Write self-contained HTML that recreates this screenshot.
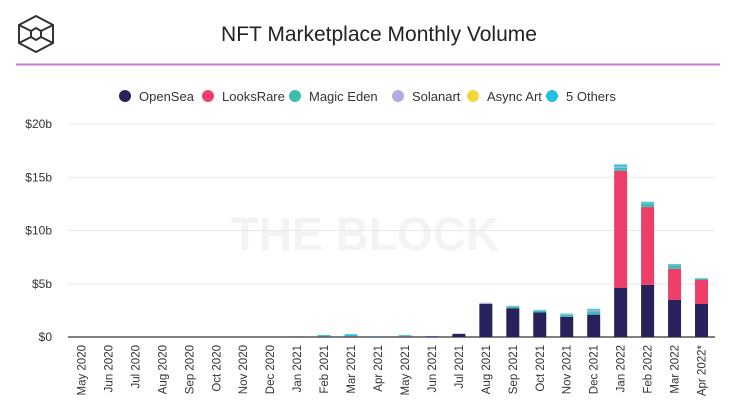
<!DOCTYPE html>
<html><head><meta charset="utf-8"><style>
body{margin:0;background:#fff;width:737px;height:413px;overflow:hidden;font-family:"Liberation Sans",sans-serif}
</style></head><body>
<svg width="737" height="413" xmlns="http://www.w3.org/2000/svg">
<g fill="none" stroke="#333" stroke-width="2">
<polygon points="36,16 53,25 53,43 36,52 19,43 19,25"/>
<polygon points="36,28 41,31 41,37 36,40 31,37 31,31"/>
<line x1="19" y1="25" x2="31" y2="31"/><line x1="53" y1="25" x2="41" y2="31"/>
<line x1="19" y1="43" x2="31" y2="37"/><line x1="53" y1="43" x2="41" y2="37"/>
</g>
<text x="379" y="41" text-anchor="middle" font-size="21" fill="#222">NFT Marketplace Monthly Volume</text>
<line x1="16" y1="64.5" x2="720" y2="64.5" stroke="#c77ddb" stroke-width="2"/>
<text x="365" y="250" text-anchor="middle" font-size="46" font-weight="bold" fill="#f3f3f3">THE BLOCK</text>
<g id="legend"></g>
<g id="grid"></g>
<g id="bars"></g>
<g id="xlabels"></g>
</svg>
<script>
const categories=["May 2020","Jun 2020","Jul 2020","Aug 2020","Sep 2020","Oct 2020","Nov 2020","Dec 2020","Jan 2021","Feb 2021","Mar 2021","Apr 2021","May 2021","Jun 2021","Jul 2021","Aug 2021","Sep 2021","Oct 2021","Nov 2021","Dec 2021","Jan 2022","Feb 2022","Mar 2022","Apr 2022*"];
const openSea=[0,0,0,0,0,0,0,0,0.01,0.05,0.05,0.03,0.05,0.06,0.3,3.1,2.7,2.3,1.9,2.1,4.6,4.9,3.5,3.1];
const looksRare=[0,0,0,0,0,0,0,0,0,0,0,0,0,0,0,0,0,0,0,0,11.0,7.3,2.9,2.25];
const magicEden=[0,0,0,0,0,0,0,0,0,0,0,0,0,0,0,0,0.12,0.15,0.2,0.3,0.3,0.35,0.35,0.12];
const solanart=[0,0,0,0,0,0,0,0,0,0.02,0.02,0,0.03,0.02,0.03,0.12,0.05,0.05,0.05,0.15,0.1,0.05,0.05,0.03];
const asyncArt=[0,0,0,0,0,0,0,0,0,0.01,0.01,0,0.01,0,0,0,0,0,0,0,0,0,0,0];
const others=[0,0,0,0,0,0,0,0,0,0.1,0.18,0.03,0.08,0,0,0,0.05,0.05,0.05,0.1,0.2,0.1,0.05,0.03];
const seriesNames=["OpenSea","LooksRare","Magic Eden","Solanart","Async Art","5 Others"];
const seriesColors=["#27215c","#ef3e69","#3dbfb0","#b7a9e3","#f5d63a","#27c0e0"];
const yTicks=[0,5,10,15,20];
const yTickLabels=["$0","$5b","$10b","$15b","$20b"];
const series=[openSea,looksRare,magicEden,solanart,asyncArt,others];
const NS="http://www.w3.org/2000/svg";
const x0=68,x1=715,y0=337,yTop=124,maxV=20;
const y=v=>y0-(v/maxV)*(y0-yTop);
const step=(x1-x0)/categories.length;
const xc=i=>x0+step*(i+0.5);
function mk(tag,attrs,parent){const e=document.createElementNS(NS,tag);for(const k in attrs)e.setAttribute(k,attrs[k]);parent.appendChild(e);return e;}
const grid=document.getElementById('grid');
yTicks.forEach((t,i)=>{
 const l=mk('line',{x1:x0,x2:x1,y1:y(t),y2:y(t),stroke:t===0?'#555':'#e8e8e8','stroke-width':t===0?1.5:1},grid);
 
 
 const tx=mk('text',{x:52,y:y(t)+4,'text-anchor':'end','font-size':12,fill:'#333'},grid);
 tx.textContent=yTickLabels[i];
 
 
});
const bars=document.getElementById('bars');
categories.forEach((c,i)=>{
 let acc=0;
 series.forEach((s,k)=>{
  const v=s[i]; if(v<=0)return;
  const r=mk('rect',{x:xc(i)-6.5,width:13,y:y(acc+v),height:y(acc)-y(acc+v),fill:seriesColors[k]},bars);
  
  
  acc+=v;
 });
});
const xl=document.getElementById('xlabels');
categories.forEach((c,i)=>{
 const t=mk('text',{transform:`translate(${xc(i)+4},345) rotate(-90)`,'text-anchor':'end','font-size':11.5,fill:'#333'},xl);
 t.textContent=c;
 
 
});
const lg=document.getElementById('legend');
const lx=[125,208,295,398,473,552];
seriesNames.forEach((n,k)=>{
 const g=mk('g',{},lg);
 
 
 mk('circle',{cx:lx[k],cy:96,r:6,fill:seriesColors[k]},g);
 const t=mk('text',{x:lx[k]+14,y:101,'font-size':13,fill:'#333'},g);
 t.textContent=n;
});
</script>
</body></html>
